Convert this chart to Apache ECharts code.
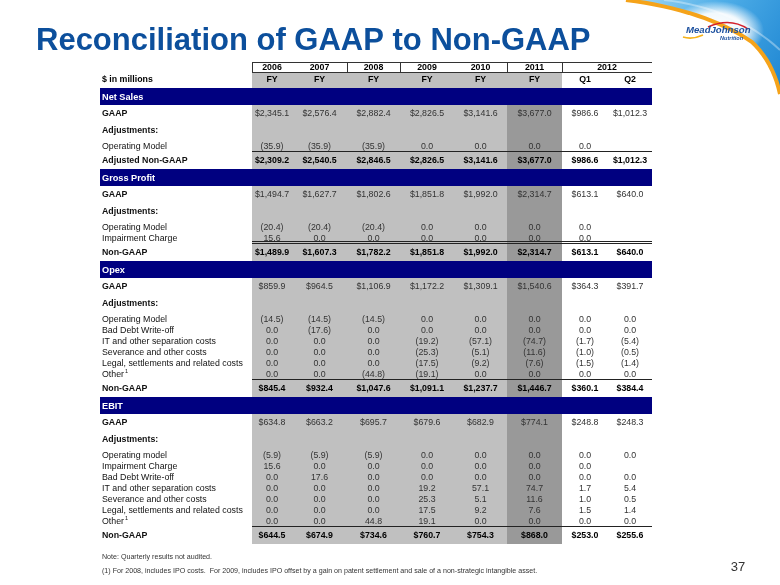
<!DOCTYPE html>
<html><head><meta charset="utf-8">
<script src="https://cdn.jsdelivr.net/npm/echarts@6/dist/echarts.min.js"></script>
<style>html,body{margin:0;padding:0;background:#fff}#c{width:780px;height:585px}</style>
</head><body><div id="c"></div>
<script>
// ================= DATA =================
const yearLabels = ['2006', '2007', '2008', '2009', '2010', '2011', '2012'];
const yearSpans = [1, 1, 1, 1, 1, 1, 2];
const periodLabels = ['FY', 'FY', 'FY', 'FY', 'FY', 'FY', 'Q1', 'Q2'];
const unitLabel = '$ in millions';
const sectionTitles = ['Net Sales', 'Gross Profit', 'Opex', 'EBIT'];

// Net Sales
const netSalesGAAP = [2345.1, 2576.4, 2882.4, 2826.5, 3141.6, 3677.0, 986.6, 1012.3];
const netSalesAdjLabels = ['Operating Model'];
const netSalesOperatingModel = [-35.9, -35.9, -35.9, 0.0, 0.0, 0.0, 0.0, null];
const netSalesAdjusted = [2309.2, 2540.5, 2846.5, 2826.5, 3141.6, 3677.0, 986.6, 1012.3];

// Gross Profit
const grossProfitGAAP = [1494.7, 1627.7, 1802.6, 1851.8, 1992.0, 2314.7, 613.1, 640.0];
const grossProfitAdjLabels = ['Operating Model', 'Impairment Charge'];
const grossProfitOperatingModel = [-20.4, -20.4, -20.4, 0.0, 0.0, 0.0, 0.0, null];
const grossProfitImpairment = [15.6, 0.0, 0.0, 0.0, 0.0, 0.0, 0.0, null];
const grossProfitNonGAAP = [1489.9, 1607.3, 1782.2, 1851.8, 1992.0, 2314.7, 613.1, 640.0];

// Opex
const opexGAAP = [859.9, 964.5, 1106.9, 1172.2, 1309.1, 1540.6, 364.3, 391.7];
const opexAdjLabels = ['Operating Model', 'Bad Debt Write-off', 'IT and other separation costs',
  'Severance and other costs', 'Legal, settlements and related costs', 'Other'];
const opexOperatingModel = [-14.5, -14.5, -14.5, 0.0, 0.0, 0.0, 0.0, 0.0];
const opexBadDebt = [0.0, -17.6, 0.0, 0.0, 0.0, 0.0, 0.0, 0.0];
const opexSeparation = [0.0, 0.0, 0.0, -19.2, -57.1, -74.7, -1.7, -5.4];
const opexSeverance = [0.0, 0.0, 0.0, -25.3, -5.1, -11.6, -1.0, -0.5];
const opexLegal = [0.0, 0.0, 0.0, -17.5, -9.2, -7.6, -1.5, -1.4];
const opexOther = [0.0, 0.0, -44.8, -19.1, 0.0, 0.0, 0.0, 0.0];
const opexNonGAAP = [845.4, 932.4, 1047.6, 1091.1, 1237.7, 1446.7, 360.1, 384.4];

// EBIT
const ebitGAAP = [634.8, 663.2, 695.7, 679.6, 682.9, 774.1, 248.8, 248.3];
const ebitAdjLabels = ['Operating model', 'Impairment Charge', 'Bad Debt Write-off',
  'IT and other separation costs', 'Severance and other costs',
  'Legal, settlements and related costs', 'Other'];
const ebitOperatingModel = [-5.9, -5.9, -5.9, 0.0, 0.0, 0.0, 0.0, 0.0];
const ebitImpairment = [15.6, 0.0, 0.0, 0.0, 0.0, 0.0, 0.0, null];
const ebitBadDebt = [0.0, 17.6, 0.0, 0.0, 0.0, 0.0, 0.0, 0.0];
const ebitSeparation = [0.0, 0.0, 0.0, 19.2, 57.1, 74.7, 1.7, 5.4];
const ebitSeverance = [0.0, 0.0, 0.0, 25.3, 5.1, 11.6, 1.0, 0.5];
const ebitLegal = [0.0, 0.0, 0.0, 17.5, 9.2, 7.6, 1.5, 1.4];
const ebitOther = [0.0, 0.0, 44.8, 19.1, 0.0, 0.0, 0.0, 0.0];
const ebitNonGAAP = [644.5, 674.9, 734.6, 760.7, 754.3, 868.0, 253.0, 255.6];

const footnoteMarks = { 'Other': '1' };
const noteText = 'Note: Quarterly results not audited.';
const footnoteText = '(1) For 2008, includes IPO costs.  For 2009, includes IPO offset by a gain on patent settlement and sale of a non-strategic intangible asset.';
const pageNumber = '37';
const titleText = 'Reconciliation of GAAP to Non-GAAP';

// ================= LAYOUT / STYLE =================
const FONT = '"Liberation Sans", Arial, Helvetica, sans-serif';
const FS = 8.8;
const colWidths = [152, 40, 55, 53, 54, 53, 55, 46, 44];
const colStart = []; let accW = 0;
colWidths.forEach(w => { colStart.push(accW); accW += w; });
const tableW = accW;
const rowH = { year: 10, period: 16, band: 17, gaap: 17, adj: 19, item: 11, total: 17 };
const boxBreakCols = [0, 2, 3, 5, 6];

const rows = [{ type: 'year' }, { type: 'period' }];
function addSection(title, gaap, adjLabels, adjValues, totalLabel, total, line) {
  rows.push({ type: 'band', label: title });
  rows.push({ type: 'gaap', label: 'GAAP', values: gaap });
  rows.push({ type: 'adj', label: 'Adjustments:' });
  adjLabels.forEach((l, i) => rows.push({ type: 'item', label: l, values: adjValues[i] }));
  rows.push({ type: 'total', label: totalLabel, values: total, line: line });
}
addSection(sectionTitles[0], netSalesGAAP, netSalesAdjLabels, [netSalesOperatingModel],
  'Adjusted Non-GAAP', netSalesAdjusted, 'single');
addSection(sectionTitles[1], grossProfitGAAP, grossProfitAdjLabels,
  [grossProfitOperatingModel, grossProfitImpairment], 'Non-GAAP', grossProfitNonGAAP, 'double');
addSection(sectionTitles[2], opexGAAP, opexAdjLabels,
  [opexOperatingModel, opexBadDebt, opexSeparation, opexSeverance, opexLegal, opexOther],
  'Non-GAAP', opexNonGAAP, 'single');
addSection(sectionTitles[3], ebitGAAP, ebitAdjLabels,
  [ebitOperatingModel, ebitImpairment, ebitBadDebt, ebitSeparation, ebitSeverance, ebitLegal, ebitOther],
  'Non-GAAP', ebitNonGAAP, 'single');

const rowTop = []; let accH = 0;
rows.forEach(r => { rowTop.push(accH); accH += rowH[r.type]; });
const tableH = accH;
const firstBandIdx = rows.findIndex(r => r.type === 'band');

function fmt(v, dollar) {
  if (v === null || v === undefined) return '';
  let s = Math.abs(v).toLocaleString('en-US', { minimumFractionDigits: 1, maximumFractionDigits: 1 });
  if (dollar) s = '$' + s;
  return v < 0 ? '(' + s + ')' : s;
}
const px = v => Math.round(v) + 0.5;

function txt(text, x, y, opt) {
  return {
    type: 'text',
    style: Object.assign({
      text: text, x: x, y: y, fill: '#000', fontSize: FS, fontFamily: FONT,
      fontWeight: 'normal', textAlign: 'left', textVerticalAlign: 'middle'
    }, opt || {})
  };
}

function renderShade(params, api) {
  const c = api.value(0);
  if (c > 5) return { type: 'group', children: [] };
  const x0 = colStart[c + 1], x1 = x0 + colWidths[c + 1];
  const a = api.coord([x0, rowTop[1]]), b = api.coord([x1, tableH]);
  const children = [{ type: 'rect', shape: { x: a[0], y: a[1], width: b[0] - a[0], height: b[1] - a[1] }, style: { fill: '#c0c0c0' } }];
  if (c === 5) {
    const d = api.coord([x0, rowTop[firstBandIdx] + rowH.band]);
    children.push({ type: 'rect', shape: { x: d[0], y: d[1], width: b[0] - d[0], height: b[1] - d[1] }, style: { fill: '#999999' } });
  }
  return { type: 'group', children: children };
}

function renderYear(params, api) {
  const i = api.value(0);
  let startCol = 0; for (let k = 0; k < i; k++) startCol += yearSpans[k];
  const span = yearSpans[i];
  const x0 = colStart[startCol + 1];
  const x1 = colStart[startCol + span] + colWidths[startCol + span];
  const a = api.coord([x0, rowTop[0]]), b = api.coord([x1, rowTop[0] + rowH.year]);
  const children = [txt(yearLabels[i], (a[0] + b[0]) / 2, (a[1] + b[1]) / 2 + 0.5, { textAlign: 'center', fontWeight: 'bold' })];
  const lineStyle = { stroke: '#333', lineWidth: 1 };
  children.push({ type: 'line', shape: { x1: a[0], y1: px(a[1]), x2: b[0], y2: px(a[1]) }, style: lineStyle });
  children.push({ type: 'line', shape: { x1: a[0], y1: px(b[1]), x2: b[0], y2: px(b[1]) }, style: lineStyle });
  if (boxBreakCols.indexOf(startCol) >= 0) {
    children.push({ type: 'line', shape: { x1: px(a[0]), y1: a[1], x2: px(a[0]), y2: b[1] }, style: lineStyle });
  }
  return { type: 'group', children: children };
}

function renderRow(params, api) {
  const idx = api.value(0);
  const r = rows[idx];
  if (r.type === 'year') return { type: 'group', children: [] };
  const a = api.coord([0, rowTop[idx]]);
  const b = api.coord([tableW, rowTop[idx] + rowH[r.type]]);
  const yMid = (a[1] + b[1]) / 2;
  const lx = api.coord([2, 0])[0];
  const children = [];
  if (r.type === 'band') {
    children.push({ type: 'rect', shape: { x: a[0], y: a[1], width: b[0] - a[0], height: b[1] - a[1] }, style: { fill: '#000080' } });
    children.push(txt(r.label, lx, yMid + 1, { fill: '#fff', fontWeight: 'bold', fontSize: 9.2 }));
    return { type: 'group', children: children };
  }
  if (r.type === 'period') {
    children.push(txt(unitLabel, lx, yMid, { fontWeight: 'bold' }));
    periodLabels.forEach((p, c) => {
      const cx = api.coord([colStart[c + 1] + colWidths[c + 1] / 2, 0])[0];
      children.push(txt(p, cx, yMid, { textAlign: 'center', fontWeight: 'bold' }));
    });
    return { type: 'group', children: children };
  }
  const boldLabel = r.type !== 'item';
  const labelY = r.type === 'adj' ? a[1] + 8.5 : yMid;
  children.push(txt(r.label, lx, labelY, { fontWeight: boldLabel ? 'bold' : 'normal', fill: '#111' }));
  if (footnoteMarks[r.label]) {
    children.push(txt(footnoteMarks[r.label], lx + 23, labelY - 3, { fontSize: 5.5, fill: '#111' }));
  }
  if (r.values) {
    r.values.forEach((v, c) => {
      const cx = api.coord([colStart[c + 1] + colWidths[c + 1] / 2, 0])[0];
      const bold = r.type === 'total';
      const dollar = r.type === 'total' || r.type === 'gaap';
      children.push(txt(fmt(v, dollar), cx, yMid, {
        textAlign: 'center', fontWeight: bold ? 'bold' : 'normal', fill: bold ? '#000' : '#333'
      }));
    });
  }
  if (r.line) {
    const lx0 = api.coord([colStart[1], 0])[0];
    const ls = { stroke: '#222', lineWidth: 1 };
    children.push({ type: 'line', shape: { x1: lx0, y1: px(a[1]) - 1, x2: b[0], y2: px(a[1]) - 1 }, style: ls });
    if (r.line === 'double') {
      children.push({ type: 'line', shape: { x1: lx0, y1: px(a[1]) - 3, x2: b[0], y2: px(a[1]) - 3 }, style: ls });
    }
  }
  return { type: 'group', children: children };
}

// decorative swirl curve (quadratic segments sampled)
function quadPts(p0, c, p1, n) {
  const out = [];
  for (let i = 0; i <= n; i++) {
    const t = i / n, u = 1 - t;
    out.push([u * u * p0[0] + 2 * u * t * c[0] + t * t * p1[0], u * u * p0[1] + 2 * u * t * c[1] + t * t * p1[1]]);
  }
  return out;
}
const swirl = quadPts([626, 0], [705, 10], [752, 42], 16).concat(quadPts([752, 42], [773, 62], [780, 94], 10).slice(1));
const swirl2 = quadPts([664, 0], [735, 8], [780, 50], 16);

const chart = echarts.init(document.getElementById('c'), null, { renderer: 'canvas' });
const option = {
  animation: false,
  backgroundColor: '#fff',
  grid: { left: 100, top: 62, width: tableW, height: tableH },
  xAxis: { type: 'value', min: 0, max: tableW, show: false },
  yAxis: { type: 'value', min: 0, max: tableH, inverse: true, show: false },
  series: [
    { type: 'custom', name: 'shade', renderItem: renderShade, data: periodLabels.map((p, i) => [i, 0]), z: 1 },
    { type: 'custom', name: 'rows', renderItem: renderRow, data: rows.map((r, i) => [i, 0]), z: 2 },
    { type: 'custom', name: 'years', renderItem: renderYear, data: yearLabels.map((y, i) => [i, 0]), z: 3 }
  ],
  graphic: [
    { type: 'polygon', z: 0, shape: { points: swirl.concat([[780, 0]]) },
      style: { fill: { type: 'linear', x: 0, y: 0, x2: 1, y2: 1, colorStops: [
        { offset: 0, color: '#a9dbf5' }, { offset: 0.45, color: '#4faee8' }, { offset: 1, color: '#1e86d2' }] } } },
    { type: 'circle', z: 0, shape: { cx: 716, cy: 31, r: 30 }, scaleX: 1.6, originX: 716, originY: 31,
      style: { fill: { type: 'radial', x: 0.5, y: 0.5, r: 0.5, colorStops: [
        { offset: 0, color: 'rgba(255,255,255,1)' }, { offset: 0.6, color: 'rgba(255,255,255,0.92)' }, { offset: 1, color: 'rgba(255,255,255,0)' }] } } },
    { type: 'polyline', z: 1, shape: { points: swirl }, style: { stroke: '#f5a31a', lineWidth: 4, fill: null } },
    { type: 'polyline', z: 1, shape: { points: swirl2 }, style: { stroke: 'rgba(255,255,255,0.35)', lineWidth: 2, fill: null } },
    { type: 'bezierCurve', z: 5, shape: { x1: 708, y1: 27, cpx1: 730, cpy1: 17, x2: 748, y2: 29 }, style: { stroke: '#d4202c', lineWidth: 1.5, fill: null } },
    { type: 'bezierCurve', z: 5, shape: { x1: 683, y1: 37, cpx1: 692, cpy1: 40, x2: 703, y2: 35 }, style: { stroke: '#f5b21a', lineWidth: 1.5, fill: null } },
    { type: 'text', x: 686, y: 30.5, z: 6, style: { text: 'MeadJohnson', fill: '#1b4f9e', fontFamily: FONT, fontSize: 9.6,
      fontWeight: 'bold', fontStyle: 'italic', textVerticalAlign: 'middle' } },
    { type: 'text', x: 743, y: 38.5, z: 6, style: { text: 'Nutrition', fill: '#1b4f9e', fontFamily: FONT, fontSize: 5.5,
      fontWeight: 'bold', fontStyle: 'italic', textAlign: 'right', textVerticalAlign: 'middle' } },
    { type: 'text', x: 36, y: 41, z: 6, style: { text: titleText, fill: '#0c4f9c', fontFamily: FONT, fontSize: 31,
      fontWeight: 'bold', textVerticalAlign: 'middle' } },
    { type: 'text', x: 102, y: 557, style: { text: noteText, fill: '#333', fontFamily: FONT, fontSize: 7.1, textVerticalAlign: 'middle' } },
    { type: 'text', x: 102, y: 571, style: { text: footnoteText, fill: '#333', fontFamily: FONT, fontSize: 7.1, textVerticalAlign: 'middle' } },
    { type: 'text', x: 738, y: 567, style: { text: pageNumber, fill: '#333', fontFamily: FONT, fontSize: 13, textAlign: 'center', textVerticalAlign: 'middle' } }
  ]
};
chart.setOption(option);
</script></body></html>
